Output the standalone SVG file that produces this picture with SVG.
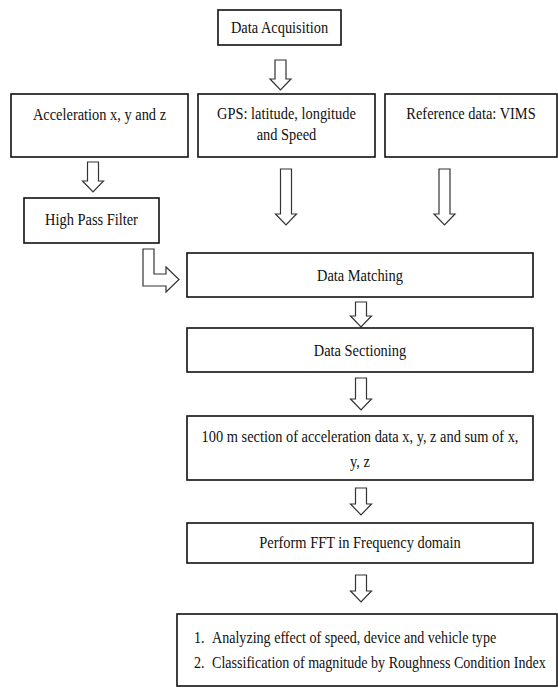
<svg xmlns="http://www.w3.org/2000/svg" width="558" height="691" viewBox="0 0 558 691">
<style>
.box{fill:#fff;stroke:#111;stroke-width:1.6}
.arr{fill:#fff;stroke:#333;stroke-width:1.2;stroke-linejoin:miter}
text{font-family:"Liberation Serif","Times New Roman",serif;font-size:16px;fill:#111}
.c{text-anchor:middle}
</style>
<rect width="558" height="691" fill="#fff"/>
<g id="connectors">
<path class="arr" d="M275,60 H286 V79 H291 L280.5,90 L270,79 H275 Z"/>
<path class="arr" d="M87.5,162 H98.5 V181 H103.5 L93,192 L82.5,181 H87.5 Z"/>
<path class="arr" d="M280.5,169 H291.5 V214 H296.5 L286,225 L275.5,214 H280.5 Z"/>
<path class="arr" d="M439,169 H450 V214 H455 L444.5,225 L434,214 H439 Z"/>
<path class="arr" d="M143,249 H154 V274 H166 V267 L179,279.5 L166,292 V286 H143 Z"/>
<path class="arr" d="M355.5,302 H366.5 V316 H371.5 L361,327 L350.5,316 H355.5 Z"/>
<path class="arr" d="M355.5,378 H366.5 V399 H371.5 L361,410 L350.5,399 H355.5 Z"/>
<path class="arr" d="M355.5,488 H366.5 V504 H371.5 L361,515 L350.5,504 H355.5 Z"/>
<path class="arr" d="M355.5,575 H366.5 V591 H371.5 L361,602 L350.5,591 H355.5 Z"/>
</g>
<g id="data-acquisition">
<rect class="box" x="218" y="10" width="123" height="35"/>
<text class="c" transform="translate(279.5,33) scale(0.9,1)">Data Acquisition</text>
</g>
<g id="acceleration">
<rect class="box" x="11" y="94" width="177" height="63"/>
<text class="c" transform="translate(99.5,120) scale(0.9,1)">Acceleration x, y and z</text>
</g>
<g id="gps">
<rect class="box" x="198" y="94" width="177" height="63"/>
<text class="c" transform="translate(286.5,119) scale(0.9,1)">GPS: latitude, longitude</text>
<text class="c" transform="translate(286.5,140) scale(0.9,1)">and Speed</text>
</g>
<g id="reference">
<rect class="box" x="385" y="94" width="172" height="63"/>
<text class="c" transform="translate(471,119) scale(0.9,1)">Reference data: VIMS</text>
</g>
<g id="high-pass-filter">
<rect class="box" x="24" y="198" width="135" height="45"/>
<text class="c" transform="translate(91.5,225) scale(0.9,1)">High Pass Filter</text>
</g>
<g id="data-matching">
<rect class="box" x="187" y="253" width="346" height="44"/>
<text class="c" transform="translate(360,281) scale(0.9,1)">Data Matching</text>
</g>
<g id="data-sectioning">
<rect class="box" x="187" y="328" width="346" height="44"/>
<text class="c" transform="translate(360,356) scale(0.9,1)">Data Sectioning</text>
</g>
<g id="section-100m">
<rect class="box" x="187" y="416" width="346" height="64"/>
<text class="c" transform="translate(360,442) scale(0.9,1)">100 m section of acceleration data x, y, z and sum of x,</text>
<text class="c" transform="translate(360,467) scale(0.9,1)">y, z</text>
</g>
<g id="fft">
<rect class="box" x="187" y="523" width="346" height="40"/>
<text class="c" transform="translate(360,548) scale(0.9,1)">Perform FFT in Frequency domain</text>
</g>
<g id="analysis">
<rect class="box" x="177" y="614" width="380" height="72"/>
<text transform="translate(194,643) scale(0.88,1)">1.</text>
<text transform="translate(212,643) scale(0.88,1)">Analyzing effect of speed, device and vehicle type</text>
<text transform="translate(194,668) scale(0.88,1)">2.</text>
<text transform="translate(212,668) scale(0.88,1)">Classification of magnitude by Roughness Condition Index</text>
</g>
</svg>
